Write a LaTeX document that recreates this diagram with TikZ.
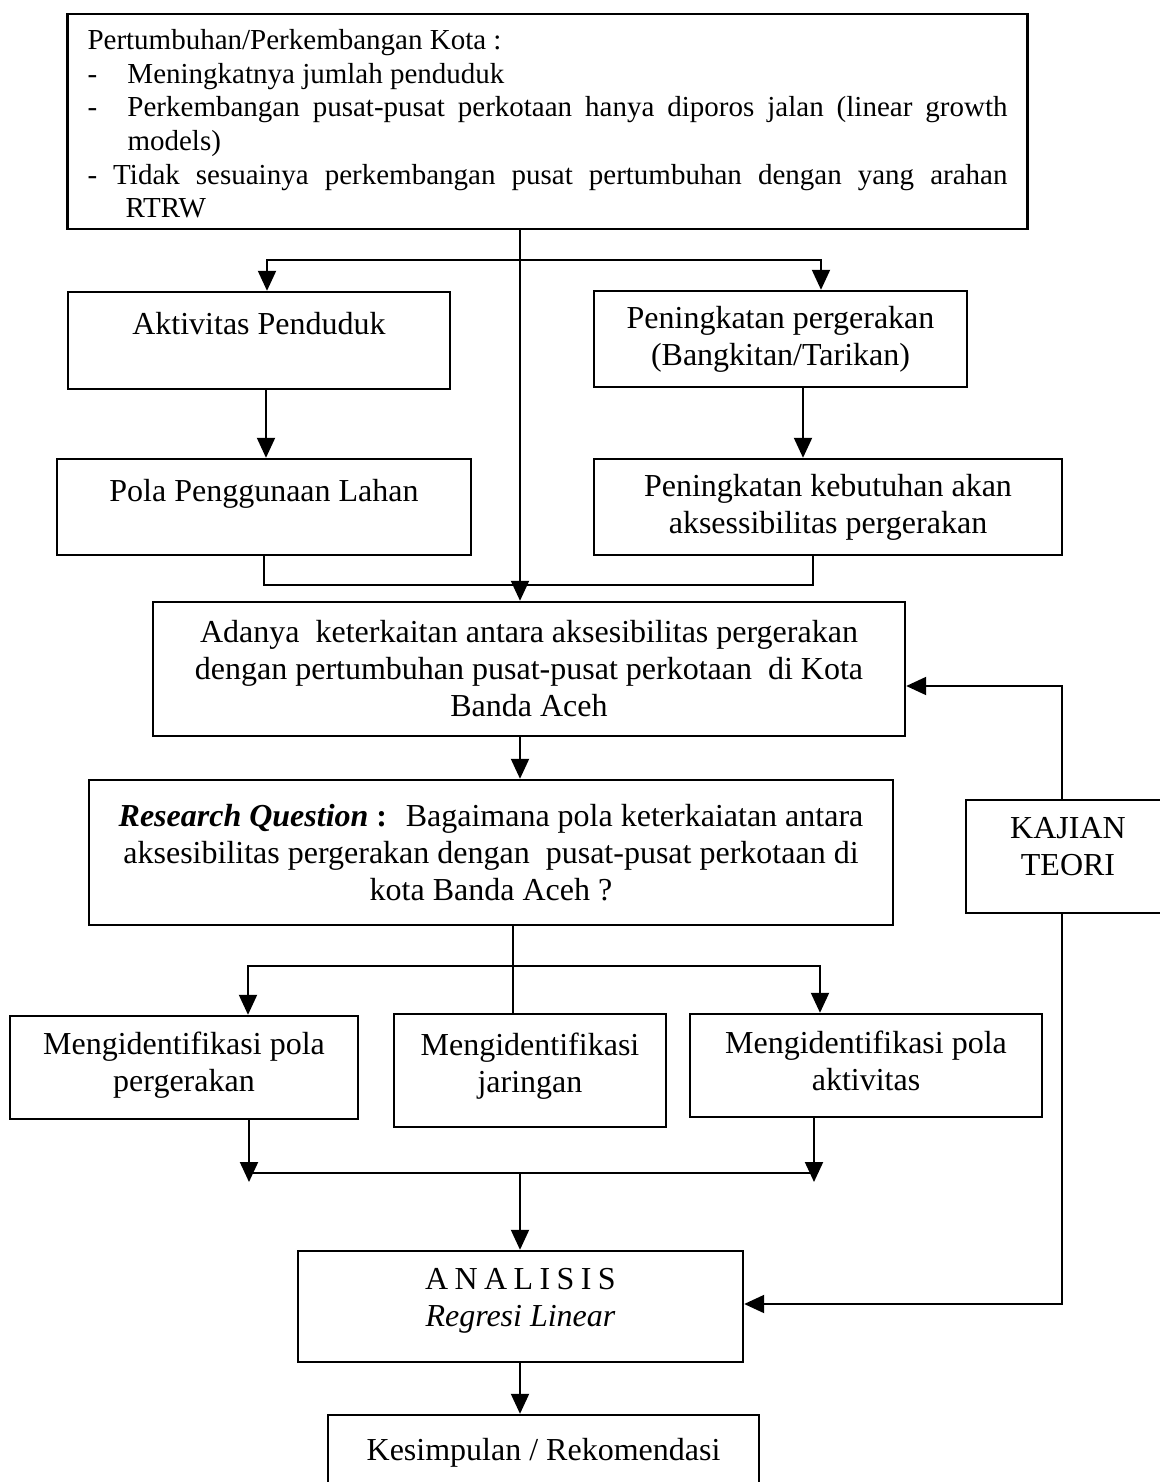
\documentclass[tikz,border=0pt]{standalone}
\usepackage{fontspec}
\setmainfont{Liberation Serif}
\usetikzlibrary{arrows.meta}
\begin{document}
\begin{tikzpicture}[x=0.5pt,y=-0.5pt,
  box/.style={draw, line width=1.2pt, align=center, inner sep=2pt, font=\fontsize{16pt}{18.5pt}\selectfont},
  single/.style={text height=11pt, text depth=17pt},
  conn/.style={line width=1pt, line cap=rect},
  arr/.style={line width=1pt, -{Triangle[length=10pt,width=9pt]}}]
\fill[white] (0,0) rectangle (1160,1482);
\useasboundingbox (0,0) rectangle (1160,1482);

% boxes
\node[box, text width=460pt, inner xsep=10pt, inner ysep=0pt, minimum height=107.5pt, align=justify,
      font=\fontsize{14.5pt}{16.8pt}\selectfont] (top) at (547.5,121.5)
 {\parindent=0pt\tolerance=10000\hyphenpenalty=10000\exhyphenpenalty=10000
  \rule{0pt}{12.5pt}Pertumbuhan/Perkembangan Kota :\par
  \hangindent=20pt\hangafter=1\makebox[20pt][l]{-}Meningkatnya jumlah penduduk\par
  \hangindent=20pt\hangafter=1\makebox[20pt][l]{-}Perkembangan pusat-pusat perkotaan hanya diporos jalan (linear growth\linebreak models)\par
  \hangindent=19pt\hangafter=1 - Tidak sesuainya perkembangan pusat pertumbuhan dengan yang arahan\linebreak RTRW\par};

\node[box, single, minimum width=191pt, minimum height=48.5pt] (akt) at (259,340.5) {Aktivitas Penduduk};
\node[box, minimum width=186.5pt, minimum height=48pt] (pen) at (780.5,339) {Peningkatan pergerakan\\(Bangkitan/Tarikan)};
\node[box, single, minimum width=207pt, minimum height=48pt] (pola) at (264,507) {Pola Penggunaan Lahan};
\node[box, minimum width=234pt, minimum height=48pt] (keb) at (828,507) {Peningkatan kebutuhan akan\\aksessibilitas pergerakan};

\node[box, minimum width=376pt, minimum height=67pt] (adanya) at (529,669)
 {Adanya~ keterkaitan antara aksesibilitas pergerakan\\dengan pertumbuhan pusat-pusat perkotaan~ di Kota\\Banda Aceh};

\node[box, minimum width=402pt, minimum height=72.5pt] (rq) at (491,852.5)
 {\textbf{\textit{Research Question}} \textbf{:}~ Bagaimana pola keterkaiatan antara\\aksesibilitas pergerakan dengan~ pusat-pusat perkotaan di\\kota Banda Aceh ?};

\node[box, minimum width=102pt, minimum height=56.5pt, text depth=10pt] (kajian) at (1068,856.5) {KAJIAN\\TEORI};

\node[box, minimum width=174pt, minimum height=51.5pt, text depth=6pt] (id1) at (184,1067.5) {Mengidentifikasi pola\\pergerakan};
\node[box, minimum width=136pt, minimum height=56.5pt, text depth=7.5pt] (id2) at (530,1070.5) {Mengidentifikasi\\jaringan};
\node[box, minimum width=176pt, minimum height=51.5pt, text depth=4.5pt] (id3) at (866,1065.5) {Mengidentifikasi pola\\aktivitas};

\node[box, minimum width=222.5pt, minimum height=55.5pt, text depth=9.5pt] (analisis) at (520.5,1306.5)
 {{\addfontfeature{LetterSpace=20}ANALISIS}\\\textit{Regresi Linear}};

\node[box, minimum width=215.5pt, minimum height=37.5pt] (kes) at (543.5,1452.5) {Kesimpulan / Rekomendasi};

% connectors
\coordinate (cx) at (520,0);
\draw[arr] (top.south -| cx) -- (adanya.north -| cx);
\coordinate (bl) at (267,260);
\coordinate (br) at (821,260);
\draw[conn] (bl) -- (br);
\draw[arr] (bl) -- (akt.north -| bl);
\draw[arr] (br) -- (pen.north -| br);
\coordinate (a1) at (266,0);
\draw[arr] (akt.south -| a1) -- (pola.north -| a1);
\coordinate (a2) at (803,0);
\draw[arr] (pen.south -| a2) -- (keb.north -| a2);
\coordinate (jl) at (264,585);
\coordinate (jr) at (813,585);
\draw[conn] (pola.south -| jl) -- (jl) -- (jr) -- (keb.south -| jr);
\draw[arr] (adanya.south -| cx) -- (rq.north -| cx);
\coordinate (k1) at (1062,686);
\coordinate (k2) at (1062,1304);
\draw[arr] (kajian.north -| k1) -- (k1) -- (adanya.east |- k1);
\draw[arr] (kajian.south -| k2) -- (k2) -- (analisis.east |- k2);
\coordinate (c2) at (513,0);
\draw[conn] (rq.south -| c2) -- (id2.north -| c2);
\coordinate (dl) at (248,966);
\coordinate (dr) at (820,966);
\draw[conn] (dl) -- (dr);
\draw[arr] (dl) -- (id1.north -| dl);
\draw[arr] (dr) -- (id3.north -| dr);
\coordinate (el) at (249,1182);
\coordinate (er) at (814,1182);
\draw[arr] (id1.south -| el) -- (el);
\draw[arr] (id3.south -| er) -- (er);
\coordinate (ml) at (249,1173);
\coordinate (mr) at (814,1173);
\draw[conn] (ml) -- (mr);
\draw[arr] (ml -| cx) -- (analisis.north -| cx);
\draw[arr] (analisis.south -| cx) -- (kes.north -| cx);
\end{tikzpicture}
\end{document}
